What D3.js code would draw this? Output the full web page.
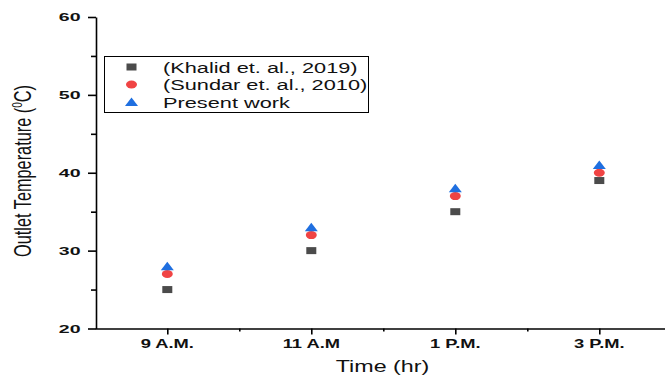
<!DOCTYPE html>
<html>
<head>
<meta charset="utf-8">
<script src="https://cdn.jsdelivr.net/npm/d3@7/dist/d3.min.js"></script>
<style>
  html, body { margin: 0; padding: 0; background: #fff; }
  svg { display: block; font-family: "Liberation Sans", Arial, sans-serif; }
</style>
</head>
<body>
<svg id="chart" width="665" height="376"></svg>
<script>
// Outlet temperature at different times of day
const categories = ["9 A.M.", "11 A.M", "1 P.M.", "3 P.M."];
const khalid  = [25, 30, 35, 39];
const sundar  = [27, 32, 37, 40];
const present = [28, 33, 38, 41];
const yTicks = [20, 30, 40, 50, 60];
const yMinorTicks = [25, 35, 45, 55];
const seriesNames = ["(Khalid et. al., 2019)", "(Sundar et. al., 2010)", "Present work"];

const svg = d3.select("#chart");

const x = d3.scalePoint().domain(categories).range([95.3, 671.3]).padding(0.5);
const y = d3.scaleLinear().domain([20, 60]).range([328.5, 17]);
const axisY = 328.5, axisX = 96;

// text stretched horizontally by sx around its anchor
function label(parent, px, py, txt, size, anchor, sx, weight, rotate) {
  const g = parent.append("g")
    .attr("transform", `translate(${px},${py}) scale(${sx},1)` + (rotate ? ` rotate(${rotate})` : ""));
  return g.append("text")
    .attr("font-size", size)
    .attr("font-weight", weight || "normal")
    .attr("fill", "#111")
    .attr("text-anchor", anchor)
    .text(txt);
}

// Y axis
svg.append("g").attr("transform", `translate(${axisX},0)`)
  .call(d3.axisLeft(y).tickValues(yTicks).tickSize(8).tickSizeOuter(0).tickFormat(""));
svg.append("g").attr("transform", `translate(${axisX},0)`)
  .call(d3.axisLeft(y).tickValues(yMinorTicks).tickSize(5).tickSizeOuter(0).tickFormat(""))
  .select(".domain").remove();
yTicks.forEach(v => label(svg, 80.5, y(v) + 4.2, String(v), 11.5, "end", 1.7, "bold"));

// X axis
const step = x.step();
const minorX = categories.slice(0, -1).map(c => x(c) + step / 2);
svg.append("g").attr("transform", `translate(0,${axisY})`)
  .call(d3.axisBottom(x).tickSize(6).tickSizeOuter(0).tickFormat(""));
const minorScale = d3.scaleLinear().domain([0, 665]).range([0, 665]);
svg.append("g").attr("transform", `translate(0,${axisY})`)
  .call(d3.axisBottom(minorScale).tickValues(minorX).tickSize(3).tickSizeOuter(0).tickFormat(""))
  .select(".domain").remove();
categories.forEach(c => label(svg, x(c), 348.3, c, 13, "middle", 1.41, "bold"));

svg.selectAll(".domain, .tick line").attr("stroke", "#000").attr("stroke-width", 1.6);

// Axis titles
label(svg, 382.5, 372, "Time (hr)", 17, "middle", 1.37);
const yt = label(svg, 30.5, 171, "", 16.3, "middle", 1.45, "normal", -90);
yt.append("tspan").text("Outlet Temperature (");
yt.append("tspan").attr("font-size", 10).attr("dy", -6).text("0");
yt.append("tspan").attr("dy", 6).text("C)");

// Markers
const colors = ["#4b4b4b", "#f04444", "#1f6fe0"];
function marker(parent, kind, cx, cy) {
  if (kind === 0) {
    parent.append("rect").attr("x", cx - 5).attr("y", cy - 3.5)
      .attr("width", 10).attr("height", 7).attr("fill", colors[0]);
  } else if (kind === 1) {
    parent.append("ellipse").attr("cx", cx).attr("cy", cy)
      .attr("rx", 5.5).attr("ry", 4).attr("fill", colors[1]);
  } else {
    parent.append("path")
      .attr("d", `M${cx - 6.5},${cy + 4} L${cx},${cy - 4.5} L${cx + 6.5},${cy + 4} Z`)
      .attr("fill", colors[2]);
  }
}
const plot = svg.append("g");
[khalid, sundar, present].forEach((vals, k) => {
  vals.forEach((v, i) => marker(plot, k, x(categories[i]), y(v)));
});

// Legend
const legend = svg.append("g");
legend.append("rect").attr("x", 104.5).attr("y", 56.5).attr("width", 264).attr("height", 56)
  .attr("fill", "#fff").attr("stroke", "#000").attr("stroke-width", 1);
const rowY = [67, 84.5, 102];
seriesNames.forEach((name, k) => {
  marker(legend, k, 131.5, rowY[k]);
  label(legend, 163, rowY[k] + 5.5, name, 15, "start", 1.45);
});
</script>
</body>
</html>
